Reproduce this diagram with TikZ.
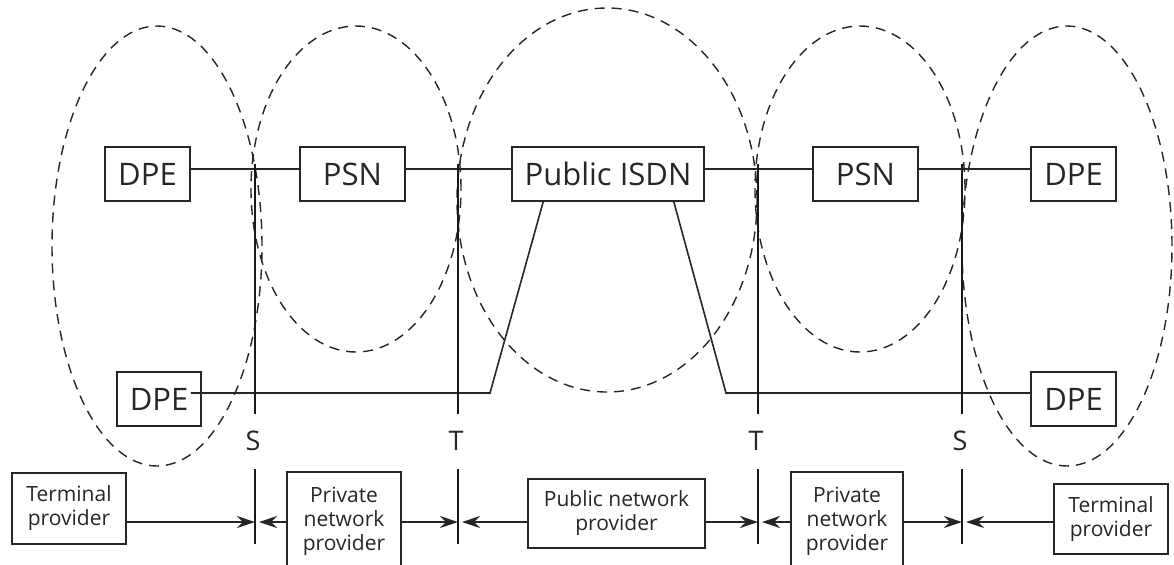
\documentclass[tikz,border=0pt]{standalone}
\usepackage{fontspec}
\setmainfont{Open Sans}
\usetikzlibrary{arrows.meta}
\begin{document}
\begin{tikzpicture}[x=0.5pt,y=-0.5pt,
  box/.style={draw=black!85, line width=0.8pt, inner sep=0pt, text=black!85, font=\fontsize{15.5}{18}\selectfont},
  pbox/.style={draw=black!85, line width=0.8pt, inner sep=0pt, align=center, text=black!85, font=\fontsize{10.5}{12}\selectfont},
  link/.style={draw=black!85, line width=0.8pt},
  refline/.style={draw=black!90, line width=1pt},
  zone/.style={draw=black!85, dash pattern=on 5pt off 3.5pt, line width=0.7pt},
  arr/.style={draw=black!85, line width=0.8pt, -{Stealth[length=9pt,width=6pt,inset=3pt]}},
  lbl/.style={text=black!85, font=\fontsize{13.5}{16}\selectfont}]
\useasboundingbox (0,0) rectangle (1174,564);
\clip (0,0) rectangle (1174,564);

% dashed zones
\draw[zone] (157,246) ellipse [x radius=52.5pt, y radius=110pt];
\draw[zone] (356,189) ellipse [x radius=52.5pt, y radius=81.5pt];
\draw[zone] (607,200) ellipse [x radius=75pt, y radius=96pt];
\draw[zone] (860,189) ellipse [x radius=52.5pt, y radius=81.5pt];
\draw[zone] (1067,246) ellipse [x radius=52.5pt, y radius=110pt];

% equipment boxes
\node[box, minimum width=42.5pt, minimum height=27pt] (dpe1) at (147.5,174) {DPE};
\node[box, minimum width=52.5pt, minimum height=27pt] (psn1) at (352.5,174) {PSN};
\node[box, minimum width=96pt, minimum height=27pt] (isdn) at (608,174) {Public ISDN};
\node[box, minimum width=52.5pt, minimum height=27pt] (psn2) at (865.5,174) {PSN};
\node[box, minimum width=42.5pt, minimum height=27pt] (dpe2) at (1073.5,174) {DPE};
\node[box, minimum width=42pt, minimum height=27pt] (dpe3) at (159,399) {DPE};
\node[box, minimum width=42.5pt, minimum height=27pt] (dpe4) at (1073.5,399) {DPE};

% top connections
\draw[link] ([yshift=2.5pt]dpe1.east) -- ([yshift=2.5pt]psn1.west);
\draw[link] ([yshift=2.5pt]psn1.east) -- ([yshift=2.5pt]isdn.west);
\draw[link] ([yshift=2.5pt]isdn.east) -- ([yshift=2.5pt]psn2.west);
\draw[link] ([yshift=2.5pt]psn2.east) -- ([yshift=2.5pt]dpe2.west);

% lower connections
\coordinate (bendL) at (490,393);
\coordinate (bendR) at (726,393);
\draw[link] ([xshift=-5.5pt,yshift=3pt]dpe3.east) -- (bendL) -- ([xshift=16pt]isdn.south west);
\draw[link] ([xshift=-15.5pt]isdn.south east) -- (bendR) -- ([yshift=3pt]dpe4.west);

% reference points
\coordinate (s1top) at (255,164); \coordinate (s1bot) at (255,414);
\coordinate (t1top) at (458,164); \coordinate (t1bot) at (458,414);
\coordinate (t2top) at (758,164); \coordinate (t2bot) at (758,414);
\coordinate (s2top) at (962,164); \coordinate (s2bot) at (962,414);
\draw[refline] (s1top) -- (s1bot);
\draw[refline] (t1top) -- (t1bot);
\draw[refline] (t2top) -- (t2bot);
\draw[refline] (s2top) -- (s2bot);
\node[lbl] (ls1) at (253,441) {S};
\node[lbl] (lt1) at (456,441) {T};
\node[lbl] (lt2) at (756,441) {T};
\node[lbl] (ls2) at (960,441) {S};

\coordinate (s1a) at (255,469); \coordinate (s1b) at (255,544);
\coordinate (t1a) at (458,469); \coordinate (t1b) at (458,544);
\coordinate (t2a) at (758,469); \coordinate (t2b) at (758,544);
\coordinate (s2a) at (962,469); \coordinate (s2b) at (962,544);
\draw[refline] (s1a) -- (s1b);
\draw[refline] (t1a) -- (t1b);
\draw[refline] (t2a) -- (t2b);
\draw[refline] (s2a) -- (s2b);

% providers
\node[pbox, minimum width=57pt, minimum height=35.5pt] (tp1) at (69,508.5) {Terminal\\provider};
\node[pbox, minimum width=57pt, minimum height=49pt] (pnp1) at (344,521) {Private\\network\\provider};
\node[pbox, minimum width=88.5pt, minimum height=34.5pt] (pub) at (616.5,513.5) {Public network\\provider};
\node[pbox, minimum width=56pt, minimum height=49pt] (pnp2) at (847,521) {Private\\network\\provider};
\node[pbox, minimum width=57pt, minimum height=35pt] (tp2) at (1111,519) {Terminal\\provider};

% responsibility arrows
\coordinate (ay) at (0,522);
\coordinate (s1c) at (255,522);
\coordinate (t1c) at (458,522);
\coordinate (t2c) at (758,522);
\coordinate (s2c) at (962,522);
\draw[arr] (tp1.east |- ay) -- (s1c);
\draw[arr] (pnp1.west |- ay) -- ([xshift=2pt]s1c);
\draw[arr] (pnp1.east |- ay) -- (t1c);
\draw[arr] (pub.west |- ay) -- ([xshift=2pt]t1c);
\draw[arr] (pub.east |- ay) -- (t2c);
\draw[arr] (pnp2.west |- ay) -- ([xshift=2pt]t2c);
\draw[arr] (pnp2.east |- ay) -- (s2c);
\draw[arr] (tp2.west |- ay) -- ([xshift=2pt]s2c);
\end{tikzpicture}
\end{document}
